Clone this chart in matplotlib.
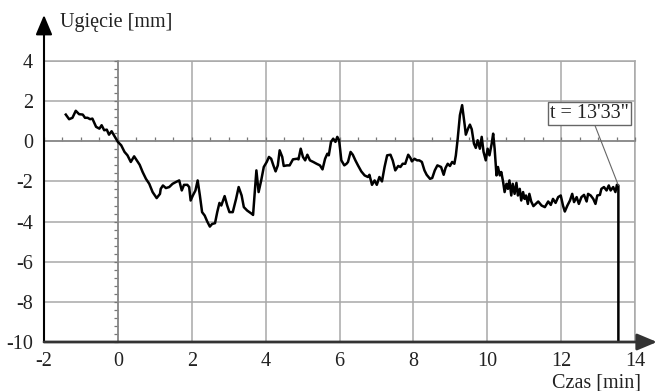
import matplotlib
matplotlib.use("Agg")
import matplotlib.pyplot as plt
import numpy as np
from matplotlib.ticker import MultipleLocator

plt.rcParams['font.family'] = ['Liberation Serif', 'DejaVu Serif']

time_min = [
    -1.41, -1.32, -1.23, -1.14, -1.05, -0.95, -0.89, -0.82, -0.75, -0.69,
    -0.59, -0.50, -0.44, -0.37, -0.30, -0.24, -0.17, -0.08, 0.00, 0.09,
    0.18, 0.26, 0.35, 0.44, 0.51, 0.59, 0.67, 0.76, 0.85, 0.94,
    1.05, 1.14, 1.16, 1.22, 1.30, 1.39, 1.48, 1.57, 1.66, 1.73,
    1.79, 1.88, 1.93, 1.97, 2.03, 2.10, 2.16, 2.22, 2.28, 2.35,
    2.42, 2.49, 2.55, 2.63, 2.69, 2.75, 2.80, 2.89, 2.96, 3.02,
    3.11, 3.20, 3.27, 3.35, 3.41, 3.50, 3.63, 3.66, 3.70, 3.75,
    3.81, 3.88, 3.95, 4.03, 4.09, 4.15, 4.21, 4.27, 4.33, 4.38,
    4.45, 4.49, 4.58, 4.65, 4.74, 4.85, 4.89, 4.95, 5.01, 5.07,
    5.13, 5.20, 5.29, 5.38, 5.47, 5.54, 5.61, 5.67, 5.71, 5.77,
    5.83, 5.89, 5.94, 5.99, 6.05, 6.13, 6.19, 6.23, 6.30, 6.36,
    6.43, 6.50, 6.59, 6.68, 6.77, 6.81, 6.88, 6.95, 7.01, 7.08,
    7.15, 7.22, 7.29, 7.38, 7.44, 7.51, 7.59, 7.65, 7.71, 7.78,
    7.86, 7.92, 7.96, 8.03, 8.10, 8.16, 8.23, 8.30, 8.36, 8.45,
    8.51, 8.58, 8.65, 8.75, 8.82, 8.87, 8.93, 8.99, 9.05, 9.11,
    9.15, 9.20, 9.26, 9.32, 9.35, 9.39, 9.42, 9.48, 9.53, 9.58,
    9.64, 9.69, 9.74, 9.80, 9.85, 9.90, 9.96, 10.01, 10.06, 10.12,
    10.16, 10.20, 10.25, 10.29, 10.34, 10.38, 10.43, 10.47, 10.52, 10.56,
    10.60, 10.65, 10.69, 10.74, 10.79, 10.83, 10.88, 10.92, 10.97, 11.01,
    11.05, 11.10, 11.14, 11.19, 11.25, 11.38, 11.47, 11.56, 11.65, 11.72,
    11.78, 11.85, 11.92, 11.99, 12.05, 12.10, 12.17, 12.24, 12.30, 12.35,
    12.42, 12.48, 12.55, 12.62, 12.69, 12.73, 12.80, 12.87, 12.93, 12.98,
    13.05, 13.09, 13.16, 13.23, 13.29, 13.34, 13.41, 13.47, 13.51, 13.55,
    13.55,
]
deflection_mm = [
    1.33, 1.10, 1.17, 1.52, 1.35, 1.33, 1.17, 1.17, 1.10, 1.13,
    0.72, 0.63, 0.80, 0.55, 0.58, 0.33, 0.50, 0.22, -0.03, -0.20,
    -0.53, -0.70, -1.03, -0.75, -0.95, -1.17, -1.53, -1.87, -2.12, -2.53,
    -2.83, -2.62, -2.37, -2.20, -2.33, -2.28, -2.12, -2.03, -1.95, -2.45,
    -2.17, -2.17, -2.28, -2.95, -2.70, -2.45, -1.95, -2.70, -3.53, -3.70,
    -4.00, -4.25, -4.12, -4.08, -3.53, -3.07, -3.20, -2.73, -3.20, -3.53,
    -3.53, -2.87, -2.28, -2.70, -3.28, -3.45, -3.62, -3.67, -2.70, -1.45,
    -2.53, -1.95, -1.28, -1.03, -0.78, -0.87, -1.20, -1.50, -1.20, -0.45,
    -0.78, -1.23, -1.20, -1.20, -0.90, -0.87, -0.90, -0.37, -0.78, -0.95,
    -0.67, -0.95, -1.03, -1.12, -1.20, -1.40, -0.87, -0.62, -0.70, -0.03,
    0.13, -0.03, 0.22, 0.05, -0.95, -1.20, -1.12, -1.03, -0.53, -0.67,
    -0.95, -1.20, -1.50, -1.70, -1.78, -1.67, -2.17, -1.95, -2.17, -1.78,
    -2.00, -1.28, -0.70, -0.67, -0.95, -1.45, -1.23, -1.28, -1.12, -1.12,
    -0.67, -0.83, -1.00, -0.87, -0.95, -0.95, -1.03, -1.45, -1.67, -1.87,
    -1.83, -1.45, -1.20, -1.28, -1.67, -1.33, -1.12, -1.23, -1.03, -1.12,
    -0.70, 0.13, 1.30, 1.80, 1.38, 0.80, 0.33, 0.63, 0.83, 0.60,
    -0.12, -0.33, 0.05, -0.37, 0.22, -0.53, -0.95, -0.37, -0.70, -0.12,
    0.38, -0.37, -1.70, -1.28, -1.70, -1.53, -2.03, -2.53, -2.12, -2.37,
    -1.95, -2.70, -2.12, -2.62, -2.07, -2.70, -2.37, -2.95, -2.53, -2.87,
    -2.70, -3.12, -2.62, -3.00, -3.23, -3.00, -3.20, -3.28, -3.00, -3.17,
    -2.87, -3.07, -2.78, -2.70, -3.20, -3.50, -3.20, -2.95, -2.62, -3.03,
    -2.78, -3.12, -2.78, -2.67, -3.00, -2.62, -2.70, -2.87, -3.12, -2.70,
    -2.67, -2.37, -2.28, -2.45, -2.20, -2.45, -2.28, -2.53, -2.17, -2.20,
    -10.0,
]
x_ticks = [-2, 0, 2, 4, 6, 8, 10, 12, 14]
y_ticks = [-10, -8, -6, -4, -2, 0, 2, 4]
end_time = 13.55
end_value = -2.20
end_label = "t = 13'33\""

FS = 14.5
W, H = 657, 391
fig = plt.figure(figsize=(W / 100, H / 100), dpi=100)
pos = [44 / W, 1 - 342 / H, (635 - 44) / W, (342 - 61) / H]
ax = fig.add_axes(pos)

grid_col = '#a8a8a8'
ax.set_xlim(-2, 14)
ax.set_ylim(-10, 4)
ax.set_xticks(x_ticks)
ax.set_yticks(y_ticks)
ax.set_xticklabels([str(v) for v in x_ticks])
ax.set_yticklabels([str(v) for v in y_ticks])
ax.grid(True, color=grid_col, linewidth=1.1)
ax.set_axisbelow(True)
ax.tick_params(axis='both', length=0, labelsize=FS, colors='#222222')
ax.tick_params(axis='x', pad=7)
ax.tick_params(axis='y', pad=8)
for side in ['top', 'right']:
    ax.spines[side].set_color(grid_col)
    ax.spines[side].set_linewidth(1.1)
ax.spines['left'].set_visible(False)
ax.spines['bottom'].set_visible(False)

# zero axes with small ticks
ax2 = fig.add_axes(pos, frameon=True)
ax2.set_xlim(-2, 14)
ax2.set_ylim(-10, 4)
ax2.patch.set_alpha(0)
for side in ['top', 'right']:
    ax2.spines[side].set_visible(False)
ax2.spines['left'].set_position(('data', 0))
ax2.spines['bottom'].set_position(('data', 0))
ax2.spines['left'].set_color('#888888')
ax2.spines['bottom'].set_color('#888888')
ax2.spines['left'].set_linewidth(1.2)
ax2.spines['bottom'].set_linewidth(1.2)
ax2.set_xticks([])
ax2.set_yticks([])
ax2.xaxis.set_minor_locator(MultipleLocator(0.5))
ax2.yaxis.set_minor_locator(MultipleLocator(0.4))
ax2.tick_params(which='minor', length=3, width=0.9, color='#777777', direction='in')
ax2.tick_params(axis='y', which='minor', direction='out')
ax2.set_zorder(1)

ax3 = fig.add_axes(pos)
ax3.set_xlim(-2, 14)
ax3.set_ylim(-10, 4)
ax3.axis('off')
ax3.set_zorder(2)
ax3.plot(time_min, deflection_mm, color='black', linewidth=1.8, solid_joinstyle='round')

# arrow axes
ax3.annotate('', xy=(0, (342 - 15) / 281), xytext=(0, 0), xycoords='axes fraction',
             textcoords='axes fraction',
             arrowprops=dict(arrowstyle='-|>,head_length=1.0,head_width=0.42',
                             mutation_scale=12, color='black', lw=1.5,
                             shrinkA=0, shrinkB=0), annotation_clip=False)
ax3.annotate('', xy=((657 - 44) / 591, 0), xytext=(0, 0), xycoords='axes fraction',
             textcoords='axes fraction',
             arrowprops=dict(arrowstyle='-|>,head_length=1.0,head_width=0.42',
                             mutation_scale=12, color='#333333', lw=2.0,
                             shrinkA=0, shrinkB=0), annotation_clip=False)

fig.text(60 / W, 1 - 23 / H, 'Ugięcie [mm]', fontsize=FS, ha='left', va='center', color='#222222')
fig.text(641 / W, 1 - 383 / H, 'Czas [min]', fontsize=FS, ha='right', va='center', color='#222222')

ax3.annotate(end_label, xy=(end_time, end_value), xytext=(12.78, 1.4),
             fontsize=FS, ha='center', va='center', color='#222222',
             bbox=dict(boxstyle='square,pad=0.1', fc='white', ec='#666666', lw=1.0),
             arrowprops=dict(arrowstyle='-', color='#666666', lw=0.8,
                             shrinkA=0, shrinkB=0, relpos=(0.55, 0.0)))

fig.savefig('out.png', dpi=100)
